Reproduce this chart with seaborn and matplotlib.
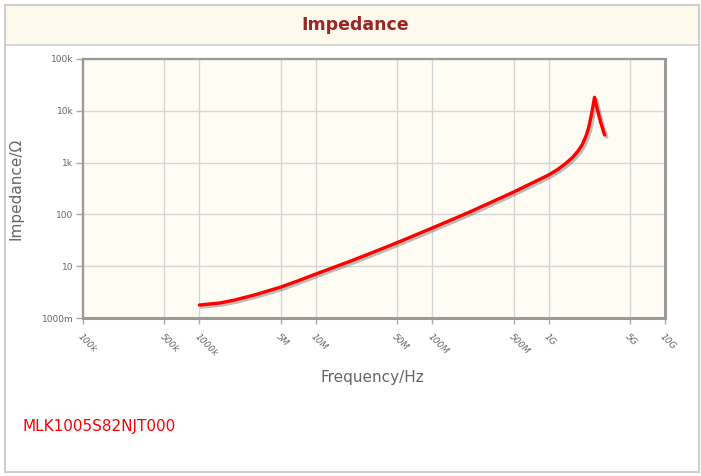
import matplotlib.pyplot as plt
import matplotlib.patheffects as pe
import pandas as pd
import seaborn as sns

# impedance curve (Hz, ohm)
freq_hz = [1.0e6, 1.5e6, 2.0e6, 3.0e6, 5.0e6, 7.0e6, 1.0e7, 2.0e7, 3.0e7, 5.0e7,
           1.0e8, 2.0e8, 3.0e8, 5.0e8, 7.0e8, 1.0e9, 1.2e9, 1.4e9, 1.6e9,
           1.8e9, 1.95e9, 2.1e9, 2.2e9, 2.3e9, 2.4e9, 2.48e9, 2.6e9, 2.8e9, 3.03e9]
impedance_ohm = [1.78, 1.95, 2.22, 2.8, 3.96, 5.2, 7.06, 12.6, 18.0, 28.5,
                 54.6, 106, 160, 270, 390, 577, 740, 960, 1250,
                 1700, 2250, 3300, 4600, 7200, 12000, 18200, 11500, 6000, 3410]

x_ticks = [1e5, 5e5, 1e6, 5e6, 1e7, 5e7, 1e8, 5e8, 1e9, 5e9, 1e10]
x_tick_labels = ['100k', '500k', '1000k', '5M', '10M', '50M', '100M',
                 '500M', '1G', '5G', '10G']
y_ticks = [1, 10, 100, 1e3, 1e4, 1e5]
y_tick_labels = ['1000m', '10', '100', '1k', '10k', '100k']

part_name = 'MLK1005S82NJT000'

df = pd.DataFrame({'freq': freq_hz, 'z': impedance_ohm})

sns.set_style('white')
plt.rcParams['font.family'] = ['DejaVu Sans']

fig = plt.figure(figsize=(7.01, 4.76), dpi=100)
fig.patch.set_facecolor('white')

# outer frame and title band
frame = plt.Rectangle((5 / 701, 4 / 476), 694 / 701, 467 / 476, transform=fig.transFigure,
                      fill=False, edgecolor='#cfcfcf', lw=1.5)
band = plt.Rectangle((5 / 701, 1 - 45 / 476), 694 / 701, 40 / 476, transform=fig.transFigure,
                     facecolor='#fdf9ec', edgecolor='#cfcfcf', lw=1.2)
fig.patches.extend([band, frame])
fig.text(0.507, 1 - 25 / 476, 'Impedance', ha='center', va='center',
         fontsize=12.5, fontweight='bold', color='#9b2424')

ax = fig.add_axes([83 / 701, 1 - 318 / 476, 582 / 701, 259 / 476])
ax.set_facecolor('#fffcf4')

sns.lineplot(data=df, x='freq', y='z', ax=ax, color='#ff0000', lw=2.4,
             path_effects=[pe.SimpleLineShadow(offset=(1.5, -1.5), alpha=0.25),
                           pe.Normal()])

ax.set_xscale('log')
ax.set_yscale('log')
ax.set_xlim(1e5, 1e10)
ax.set_ylim(1, 1e5)

ax.set_xticks(x_ticks)
ax.set_xticklabels(x_tick_labels, rotation=-45, ha='left', va='top',
                   rotation_mode='anchor', fontsize=6.5, color='#666666',
                   fontstyle='italic')
ax.set_yticks(y_ticks)
ax.set_yticklabels(y_tick_labels, fontsize=6.5, color='#666666')
ax.minorticks_off()
ax.tick_params(axis='x', length=4, width=1, color='#aaaaaa', pad=6, bottom=True)
ax.tick_params(axis='y', length=5, width=1, color='#aaaaaa', pad=2, left=True)

ax.grid(True, color='#d6d6d6', lw=1)
for side, spine in ax.spines.items():
    spine.set_visible(True)
    spine.set_color('#9a9a9a')
    spine.set_linewidth(2.2 if side in ('right', 'bottom') else 1.6)

ax.set_xlabel('Frequency/Hz', fontsize=11, color='#666666')
ax.set_ylabel('Impedance/\u03a9', fontsize=11, color='#666666')
ax.xaxis.set_label_coords(0.497, -0.2)
ax.yaxis.set_label_coords(-0.103, 0.5)

fig.text(22 / 701, 1 - 427 / 476, part_name, ha='left', va='center',
         fontsize=11, color='#ff0000')

fig.savefig('out.png', dpi=100)
